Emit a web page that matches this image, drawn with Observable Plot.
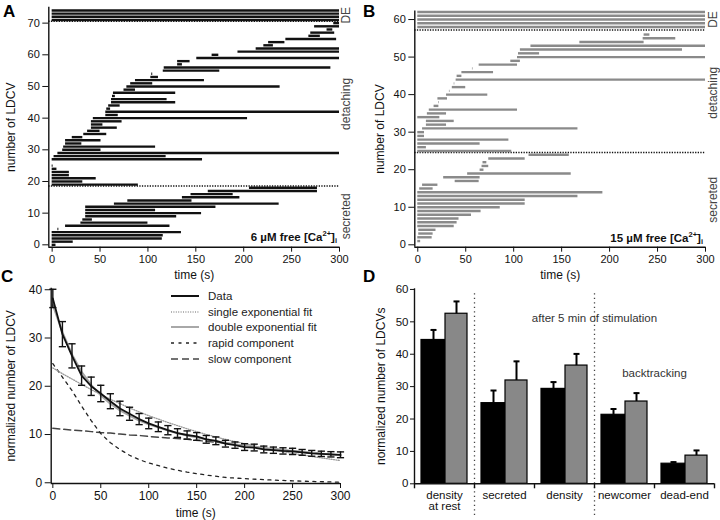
<!DOCTYPE html>
<html><head><meta charset="utf-8">
<script src="https://cdn.jsdelivr.net/npm/d3@7"></script>
<script src="https://cdn.jsdelivr.net/npm/@observablehq/plot@0.6"></script>
<style>
body{margin:0;background:#fff;}
#fig{position:relative;width:720px;height:520px;overflow:hidden;font-family:"Liberation Sans",Arial,sans-serif;background:#fff;}
#fig svg{position:absolute;}
.letter{position:absolute;font-weight:bold;font-size:17px;line-height:17px;color:#000;}
#legendC{position:absolute;left:170px;top:288px;font-size:11.5px;color:#222;}
#legendC div{height:15.7px;display:flex;align-items:center;}
#legendC svg{position:static;margin-right:8px;}
</style></head><body><div id="fig"></div>
<script>
// ---------- shared ----------
const timeTicks = [0, 50, 100, 150, 200, 250, 300];

// ---------- Panel A (6 µM): one interval per LDCV row (index = row) ----------
const aStart = [0,0,0,0,0,6,14,30,32,35,35,35,35,65,79,136,145,163,206,
  0,0,0,0,0,0,0,null,
  0,2,6,11,12,14,14,21,33,37,41,41,41,43,56,56,57,59,62,62,63,64,75,78,
  82,87,103,104,116,117,131,131,151,167,194,213,221,226,244,268,270,287,274,294,
  0,0,0,0];
const aEnd = [4,22,115,116,135,7,123,100,42,130,156,108,171,237,146,196,189,277,277,
  90,32,46,18,18,5,1,null,
  157,119,300,51,108,31,51,32,57,50,68,53,73,204,69,300,61,71,129,120,66,129,87,238,
  105,159,111,105,175,291,136,144,300,174,300,300,231,243,297,280,295,293,300,300,
  300,300,300,300];
const sectionNamesA = ["secreted", "detaching", "DE"];
const sectionLoA = [0, 19, 71];
const sectionHiA = [18, 70, 74];
const separatorsA = [18.6, 70.6];
const yTicksA = [0, 10, 20, 30, 40, 50, 60, 70];

// ---------- Panel B (15 µM) ----------
const bStart = [null,0,0,1,1,0,0,0,0,0,0,0,0,0,0,2,5,39,27,52,65,67,68,74,116,
  0,0,0,0,0,0,5,9,9,0,10,12,17,22,21,30,33,36,38,40,41,46,57,64,97,104,105,107,118,169,235,236,
  null,0,0,0,0,0];
const bEnd = [null,3,15,16,19,38,41,43,56,66,86,112,112,167,193,16,21,64,65,160,69,74,72,112,158,
  98,9,65,95,7,7,167,30,38,23,30,104,22,22.6,31,73,33.6,50,38.6,300,46,79,57.6,104,107,300,127,276,300,236,269,242,
  null,300,300,300,300,300];
const sectionNamesB = ["secreted", "detaching", "DE"];
const sectionLoB = [0, 25, 58];
const sectionHiB = [24, 56, 62];
const separatorsB = [24.6, 57.2];
const yTicksB = [0, 10, 20, 30, 40, 50, 60];

// ---------- Panel C ----------
const tData = [0,10,20,30,40,50,60,70,80,90,100,110,120,130,140,150,160,170,180,190,200,210,220,230,240,250,260,270,280,290,300];
const meanData = [38.2,30.8,26.3,22.2,20.0,18.5,16.9,15.4,14.3,13.2,12.3,11.6,10.9,10.3,9.9,9.6,9.0,8.7,8.1,7.8,7.4,7.3,6.9,6.75,6.6,6.5,6.3,6.1,6.0,5.9,5.8];
const errData = [1.9,2.6,2.5,2.0,1.9,1.7,1.55,1.5,1.35,1.15,1.1,1.0,0.95,0.9,0.85,0.8,0.8,0.8,0.7,0.65,0.7,0.7,0.7,0.65,0.65,0.65,0.6,0.6,0.55,0.55,0.6];
const tFit = [0,10,20,30,40,50,60,70,80,90,100,120,140,160,180,200,225,250,275,300];
const singleFit = [23.8,22.6,21.5,20.4,19.3,18.3,17.3,16.4,15.5,14.7,13.9,12.5,11.2,10.0,9.0,8.1,7.0,6.1,5.3,4.6];
const doubleFit = [36.8,31.2,26.6,23.0,20.3,18.1,16.4,15.0,13.9,12.9,12.1,10.8,9.8,9.0,8.3,7.7,7.1,6.6,6.1,5.7];
const rapidComp = [24.7,21.9,19.1,15.9,12.9,10.2,8.3,6.9,5.7,4.8,4.1,3.0,2.2,1.6,1.1,0.85,0.6,0.4,0.25,0.12];
const slowComp = [11.3,11.1,10.9,10.8,10.6,10.4,10.3,10.1,9.9,9.8,9.6,9.3,9.0,8.6,8.2,7.7,7.1,6.6,6.1,5.7];
const legendC = ["Data", "single exponential fit", "double exponential fit", "rapid component", "slow component"];

// ---------- Panel D ----------
const groupsD = ["density\nat rest", "secreted", "density", "newcomer", "dead-end"];
const mean6 = [44.4, 24.9, 29.3, 21.3, 6.2];
const err6 = [3.1, 3.9, 2.1, 1.8, 0.5];
const mean15 = [52.5, 31.9, 36.5, 25.4, 8.7];
const err15 = [3.8, 5.9, 3.6, 2.6, 1.6];
const notesD = ["after 5 min of stimulation", "backtracking"];
const notesGroupD = ["density", "newcomer"];
const notesYD = [51, 34.2];

// ---------- helpers ----------
const fig = document.getElementById("fig");
const FONT = '"Liberation Sans", Arial, sans-serif';
function place(svg, left, top) { svg.style.left = left + "px"; svg.style.top = top + "px"; fig.appendChild(svg); return svg; }
const capSymbol = { draw(ctx, size) { const r = Math.sqrt(size / Math.PI); ctx.moveTo(-r, 0); ctx.lineTo(r, 0); } };
function rows(starts, ends) {
  return starts.map((s, i) => ({row: i, start: s, end: ends[i]})).filter(d => d.start != null);
}
function sections(names, lo, hi) { return names.map((n, i) => ({name: n, mid: (lo[i] + hi[i]) / 2})); }
function addCa(svg, conc, xv, yv, dx, dy) {
  const x = svg.scale("x").apply(xv) + dx, y = svg.scale("y").apply(yv) + dy;
  const t = d3.select(svg).append("text").attr("x", x).attr("y", y).attr("text-anchor", "end")
    .attr("font-weight", "bold").attr("font-size", 11.5).attr("fill", "#111").attr("font-family", FONT);
  t.append("tspan").text(conc + " µM free [Ca");
  t.append("tspan").attr("dy", -4.5).attr("font-size", 7.5).text("2+");
  t.append("tspan").attr("dy", 4.5).text("]");
  t.append("tspan").attr("dy", 2.5).attr("font-size", 7.5).text("i");
}
function yTitle(text, dx) {
  return Plot.text([text], {frameAnchor: "left", dx, rotate: -90, textAnchor: "middle", lineAnchor: "middle", fontSize: 12});
}
function xTitle(text, dy) {
  return Plot.text([text], {frameAnchor: "bottom", dy, textAnchor: "middle", lineAnchor: "middle", fontSize: 12});
}

function rasterPanel(o) {
  const data = rows(o.starts, o.ends);
  const secs = sections(o.secNames, o.secLo, o.secHi);
  return Plot.plot({
    width: 360, height: 282,
    marginLeft: o.mL, marginRight: o.mR, marginTop: o.mT, marginBottom: o.mB,
    style: {background: "transparent", fontFamily: FONT, fontSize: "11px", color: "#111", overflow: "visible"},
    x: {domain: o.xDomain, ticks: timeTicks, tickSize: 5, tickPadding: 3, label: null},
    y: {domain: o.yDomain, ticks: o.yTicks, tickSize: 6, tickPadding: 3, label: null},
    marks: [
      Plot.ruleY(o.seps, {y: d => d, stroke: "#111", strokeWidth: 1.5, strokeDasharray: "1.3,1.3"}),
      Plot.ruleY(data, {y: "row", x1: "start", x2: "end", stroke: o.color, strokeWidth: 2.4}),
      Plot.ruleX([o.xDomain[0]], {stroke: "#111", strokeWidth: 1.4}),
      Plot.ruleY([o.yDomain[0]], {stroke: "#111", strokeWidth: 1.4}),
      Plot.text(secs, {x: () => 300, y: "mid", text: "name", rotate: -90, dx: o.secDx, fill: "#444", fontSize: 12}),
      xTitle("time (s)", 27.5),
      yTitle("number of LDCV", o.yLabelDx)
    ]
  });
}

// ---------- A ----------
const svgA = place(rasterPanel({
  starts: aStart, ends: aEnd, secNames: sectionNamesA, secLo: sectionLoA, secHi: sectionHiA,
  seps: separatorsA, yTicks: yTicksA, color: "#111",
  mL: 48.3, mR: 21, mT: 6.8, mB: 35.3, xDomain: [-3.5, 300], yDomain: [-0.75, 75],
  secDx: 7, yLabelDx: -38
}), 0, 0);
addCa(svgA, "6", 300, 0, -2, -3.5);

// ---------- B ----------
const svgB = place(rasterPanel({
  starts: bStart, ends: bEnd, secNames: sectionNamesB, secLo: sectionLoB, secHi: sectionHiB,
  seps: separatorsB, yTicks: yTicksB, color: "#8a8a8a",
  mL: 54.3, mR: 15, mT: 10.4, mB: 35.3, xDomain: [-3.1, 300], yDomain: [-0.64, 62.3],
  secDx: 8, yLabelDx: -35
}), 360, 0);
addCa(svgB, "15", 300, 0, -2, -2.6);

// ---------- C ----------
const pts = tData.map((t, i) => ({t, m: meanData[i], e: errData[i]}));
const fit = tFit.map((t, i) => ({t, single: singleFit[i], dbl: doubleFit[i], rapid: rapidComp[i], slow: slowComp[i]}));
const svgC = place(Plot.plot({
  width: 360, height: 258,
  marginLeft: 50.7, marginRight: 20, marginTop: 25.8, marginBottom: 37,
  style: {background: "transparent", fontFamily: FONT, fontSize: "12px", color: "#111", overflow: "visible"},
  x: {domain: [-1.7, 300], ticks: timeTicks, tickSize: 5, tickPadding: 3, label: null},
  y: {domain: [-0.15, 40.3], ticks: [0, 10, 20, 30, 40], tickSize: 6, tickPadding: 3, label: null},
  marks: [
    Plot.line(fit, {x: "t", y: "slow", stroke: "#444", strokeWidth: 1.5, strokeDasharray: "7,4"}),
    Plot.line(fit, {x: "t", y: "rapid", stroke: "#222", strokeWidth: 1.3, strokeDasharray: "3,4.5"}),
    Plot.line(fit, {x: "t", y: "single", stroke: "#9a9a9a", strokeWidth: 1.3, strokeDasharray: "1,1.4"}),
    Plot.line(fit, {x: "t", y: "dbl", stroke: "#a8a8a8", strokeWidth: 2}),
    Plot.ruleX(pts, {x: "t", y1: d => d.m - d.e, y2: d => d.m + d.e, stroke: "#111", strokeWidth: 1.4}),
    Plot.dot(pts, {x: "t", y: d => d.m + d.e, symbol: capSymbol, r: 3.6, stroke: "#111", strokeWidth: 1.4}),
    Plot.dot(pts, {x: "t", y: d => d.m - d.e, symbol: capSymbol, r: 3.6, stroke: "#111", strokeWidth: 1.4}),
    Plot.line(pts, {x: "t", y: "m", stroke: "#111", strokeWidth: 1.8}),
    Plot.ruleX([-1.7], {stroke: "#111", strokeWidth: 1.4}),
    Plot.ruleY([-0.15], {stroke: "#111", strokeWidth: 1.4}),
    xTitle("time (s)", 29.5),
    yTitle("normalized number of LDCV", -39.7)
  ]
}), 0, 262);

// legend C (HTML)
const legStyles = [
  {stroke: "#111", w: 2, dash: null},
  {stroke: "#9a9a9a", w: 1.3, dash: "1,1.4"},
  {stroke: "#a8a8a8", w: 2, dash: null},
  {stroke: "#222", w: 1.3, dash: "3,4.5"},
  {stroke: "#444", w: 1.5, dash: "7,4"}
];
const leg = document.createElement("div"); leg.id = "legendC"; fig.appendChild(leg);
legendC.forEach((name, i) => {
  const s = legStyles[i];
  const row = document.createElement("div");
  row.innerHTML = `<svg width="30" height="6"><line x1="1" x2="29" y1="3" y2="3" stroke="${s.stroke}" stroke-width="${s.w}" ${s.dash ? `stroke-dasharray="${s.dash}"` : ""}/></svg><span>${name}</span>`;
  leg.appendChild(row);
});

// ---------- D ----------
const tableD = groupsD.map((g, i) => ({group: g, low: mean6[i], lowErr: err6[i], high: mean15[i], highErr: err15[i]}));
const notes = notesD.map((n, i) => ({text: n, group: notesGroupD[i], y: notesYD[i]}));
const bandHalf = 30;
const svgD = place(Plot.plot({
  width: 360, height: 258,
  marginLeft: 54, marginRight: 6, marginTop: 26.3, marginBottom: 36.7,
  style: {background: "transparent", fontFamily: FONT, fontSize: "11.5px", color: "#111", overflow: "visible"},
  x: {domain: groupsD, padding: 0, tickSize: 0, tickPadding: 7, label: null},
  y: {domain: [0, 60.2], ticks: [0, 10, 20, 30, 40, 50, 60], tickSize: 4, tickPadding: 2, label: null},
  marks: [
    Plot.barY(tableD, {x: "group", y: "low", fill: "#000", stroke: "#000", strokeWidth: 1.2, insetLeft: 7, insetRight: 29}),
    Plot.barY(tableD, {x: "group", y: "high", fill: "#888", stroke: "#000", strokeWidth: 1.2, insetLeft: 31, insetRight: 7}),
    Plot.ruleX(tableD, {x: "group", y1: "low", y2: d => d.low + d.lowErr, dx: -11, stroke: "#000", strokeWidth: 2}),
    Plot.dot(tableD, {x: "group", y: d => d.low + d.lowErr, dx: -11, symbol: capSymbol, r: 3, stroke: "#000", strokeWidth: 2}),
    Plot.ruleX(tableD, {x: "group", y1: "high", y2: d => d.high + d.highErr, dx: 12, stroke: "#000", strokeWidth: 2}),
    Plot.dot(tableD, {x: "group", y: d => d.high + d.highErr, dx: 12, symbol: capSymbol, r: 3, stroke: "#000", strokeWidth: 2}),
    Plot.ruleX([groupsD[1], groupsD[3]], {x: d => d, dx: -bandHalf, stroke: "#444", strokeWidth: 1.3, strokeDasharray: "1.3,3.2", insetTop: 5, insetBottom: -31.7}),
    Plot.ruleX(groupsD, {x: d => d, dx: -bandHalf, y1: 0, y2: 0, insetBottom: -5, stroke: "#111", strokeWidth: 1.4}),
    Plot.ruleX([groupsD[groupsD.length - 1]], {x: d => d, dx: bandHalf, y1: 0, y2: 0, insetBottom: -5, stroke: "#111", strokeWidth: 1.4}),
    Plot.ruleX([groupsD[0]], {x: d => d, dx: -bandHalf, stroke: "#111", strokeWidth: 1.4}),
    Plot.ruleY([0], {stroke: "#111", strokeWidth: 1.4}),
    Plot.text(notes, {x: "group", y: "y", text: "text", dx: bandHalf, fill: "#333", fontSize: 11.5}),
    yTitle("normalized number of LDCVs", -33)
  ]
}), 360, 262);

// panel letters
[["A", 3, 3], ["B", 363, 3], ["C", 1, 268], ["D", 363, 268]].forEach(([t, x, y]) => {
  const d = document.createElement("div"); d.className = "letter"; d.textContent = t;
  d.style.left = x + "px"; d.style.top = y + "px"; fig.appendChild(d);
});
</script></body></html>
